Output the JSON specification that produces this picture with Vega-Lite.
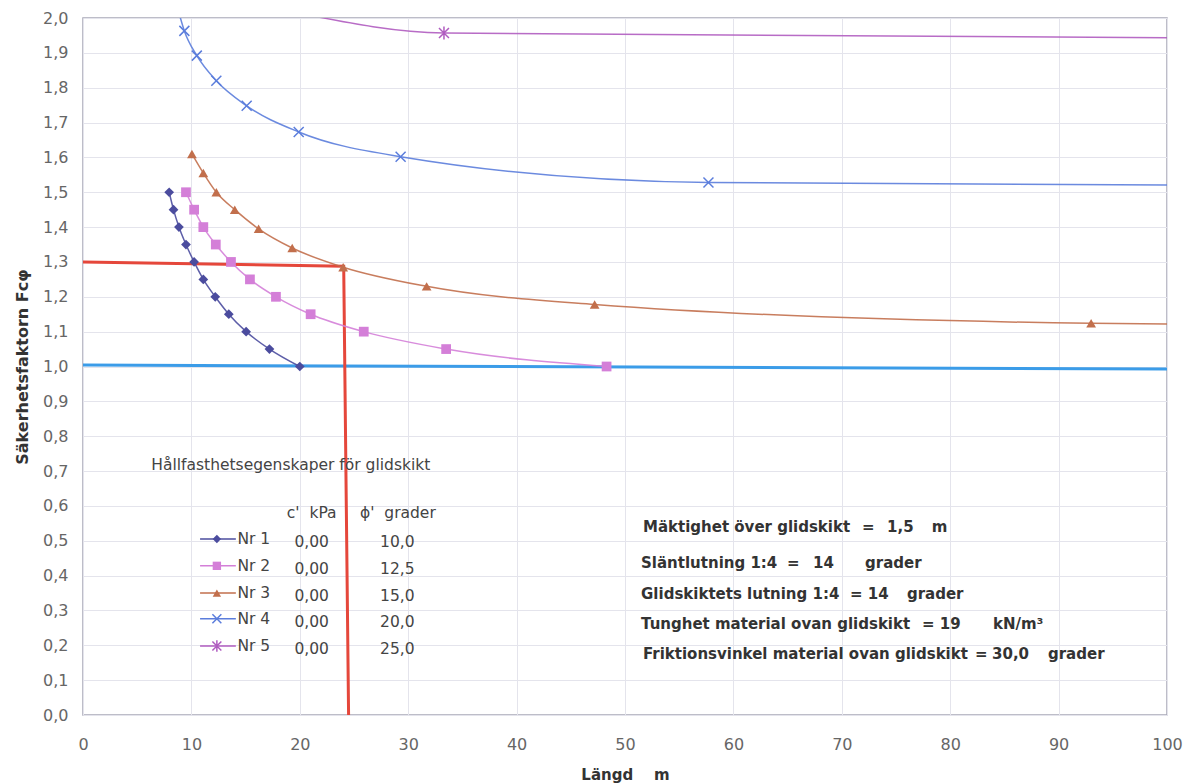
{
  "$schema": "https://vega.github.io/schema/vega-lite/v6.json",
  "width": 1084,
  "height": 697,
  "autosize": {"type": "none"},
  "padding": {"left": 83, "top": 18, "right": 19, "bottom": 68},
  "background": "#ffffff",
  "config": {"font": "DejaVu Sans", "view": {"stroke": "#a8a8b6", "strokeWidth": 1.5}},
  "datasets": {
    "curves": [
      {"s": "Nr 1", "x": 7.95, "y": 1.50, "m": 1},
      {"s": "Nr 1", "x": 8.35, "y": 1.45, "m": 1},
      {"s": "Nr 1", "x": 8.85, "y": 1.40, "m": 1},
      {"s": "Nr 1", "x": 9.5, "y": 1.35, "m": 1},
      {"s": "Nr 1", "x": 10.25, "y": 1.30, "m": 1},
      {"s": "Nr 1", "x": 11.1, "y": 1.25, "m": 1},
      {"s": "Nr 1", "x": 12.2, "y": 1.20, "m": 1},
      {"s": "Nr 1", "x": 13.45, "y": 1.15, "m": 1},
      {"s": "Nr 1", "x": 15.05, "y": 1.10, "m": 1},
      {"s": "Nr 1", "x": 17.2, "y": 1.05, "m": 1},
      {"s": "Nr 1", "x": 20.0, "y": 1.00, "m": 1},
      {"s": "Nr 2", "x": 9.5, "y": 1.50, "m": 1},
      {"s": "Nr 2", "x": 10.25, "y": 1.45, "m": 1},
      {"s": "Nr 2", "x": 11.1, "y": 1.40, "m": 1},
      {"s": "Nr 2", "x": 12.25, "y": 1.35, "m": 1},
      {"s": "Nr 2", "x": 13.65, "y": 1.30, "m": 1},
      {"s": "Nr 2", "x": 15.4, "y": 1.25, "m": 1},
      {"s": "Nr 2", "x": 17.8, "y": 1.20, "m": 1},
      {"s": "Nr 2", "x": 21.0, "y": 1.15, "m": 1},
      {"s": "Nr 2", "x": 25.9, "y": 1.10, "m": 1},
      {"s": "Nr 2", "x": 33.5, "y": 1.05, "m": 1},
      {"s": "Nr 2", "x": 48.3, "y": 1.00, "m": 1},
      {"s": "Nr 3", "x": 10.05, "y": 1.61, "m": 1},
      {"s": "Nr 3", "x": 11.1, "y": 1.555, "m": 1},
      {"s": "Nr 3", "x": 12.3, "y": 1.50, "m": 1},
      {"s": "Nr 3", "x": 14.0, "y": 1.45, "m": 1},
      {"s": "Nr 3", "x": 16.2, "y": 1.395, "m": 1},
      {"s": "Nr 3", "x": 19.3, "y": 1.34, "m": 1},
      {"s": "Nr 3", "x": 24.0, "y": 1.285, "m": 1},
      {"s": "Nr 3", "x": 31.7, "y": 1.23, "m": 1},
      {"s": "Nr 3", "x": 47.2, "y": 1.178, "m": 1},
      {"s": "Nr 3", "x": 93.0, "y": 1.124, "m": 1},
      {"s": "Nr 3", "x": 100, "y": 1.122, "m": 0},
      {"s": "Nr 4", "x": 8.7, "y": 2.032, "m": 0},
      {"s": "Nr 4", "x": 9.35, "y": 1.963, "m": 1},
      {"s": "Nr 4", "x": 10.5, "y": 1.892, "m": 1},
      {"s": "Nr 4", "x": 12.3, "y": 1.82, "m": 1},
      {"s": "Nr 4", "x": 15.1, "y": 1.748, "m": 1},
      {"s": "Nr 4", "x": 19.9, "y": 1.673, "m": 1},
      {"s": "Nr 4", "x": 29.3, "y": 1.602, "m": 1},
      {"s": "Nr 4", "x": 57.7, "y": 1.528, "m": 1},
      {"s": "Nr 4", "x": 100, "y": 1.521, "m": 0},
      {"s": "Nr 5", "x": 20.2, "y": 2.012, "m": 0},
      {"s": "Nr 5", "x": 33.3, "y": 1.957, "m": 1},
      {"s": "Nr 5", "x": 100, "y": 1.943, "m": 0}
    ],
    "ref": [
      {"g": "gräns", "x": 0, "y": 1.004},
      {"g": "gräns", "x": 100, "y": 0.993},
      {"g": "avläsning", "x": 0, "y": 1.30},
      {"g": "avläsning", "x": 24.05, "y": 1.288},
      {"g": "avläsning", "x": 24.5, "y": 0}
    ],
    "forklaring": [
      {"s": "Nr 1", "y": 0.505, "c": "0,00", "phi": "10,0"},
      {"s": "Nr 2", "y": 0.428, "c": "0,00", "phi": "12,5"},
      {"s": "Nr 3", "y": 0.350, "c": "0,00", "phi": "15,0"},
      {"s": "Nr 4", "y": 0.276, "c": "0,00", "phi": "20,0"},
      {"s": "Nr 5", "y": 0.198, "c": "0,00", "phi": "25,0"}
    ],
    "notes": [
      {"kind": "rubrik", "text": "Hållfasthetsegenskaper för glidskikt", "x": 6.3, "y": 0.717},
      {"kind": "rubrik", "text": "c'\u00a0\u00a0kPa", "x": 18.8, "y": 0.580},
      {"kind": "rubrik", "text": "ϕ'\u00a0\u00a0grader", "x": 25.55, "y": 0.580},
      {"kind": "info", "text": "Mäktighet över glidskikt", "x": 51.66, "y": 0.540},
      {"kind": "info", "text": "=", "x": 71.86, "y": 0.540},
      {"kind": "info", "text": "1,5", "x": 74.17, "y": 0.540},
      {"kind": "info", "text": "m", "x": 78.3, "y": 0.540},
      {"kind": "info", "text": "Släntlutning 1:4", "x": 51.48, "y": 0.435},
      {"kind": "info", "text": "=", "x": 64.94, "y": 0.435},
      {"kind": "info", "text": "14", "x": 67.34, "y": 0.435},
      {"kind": "info", "text": "grader", "x": 72.14, "y": 0.435},
      {"kind": "info", "text": "Glidskiktets lutning 1:4", "x": 51.48, "y": 0.346},
      {"kind": "info", "text": "= 14", "x": 70.76, "y": 0.346},
      {"kind": "info", "text": "grader", "x": 76.01, "y": 0.346},
      {"kind": "info", "text": "Tunghet material ovan glidskikt", "x": 51.48, "y": 0.261},
      {"kind": "info", "text": "= 19", "x": 77.4, "y": 0.261},
      {"kind": "info", "text": "kN/m\u00b3", "x": 83.95, "y": 0.261},
      {"kind": "info", "text": "Friktionsvinkel material ovan glidskikt", "x": 51.66, "y": 0.175},
      {"kind": "info", "text": "=", "x": 82.29, "y": 0.175},
      {"kind": "info", "text": "30,0", "x": 83.86, "y": 0.175},
      {"kind": "info", "text": "grader", "x": 89.02, "y": 0.175}
    ]
  },
  "encoding": {
    "y": {
      "field": "y", "type": "quantitative",
      "scale": {"domain": [0, 2], "nice": false, "zero": false},
      "axis": {
        "title": "Säkerhetsfaktorn Fcφ",
        "values": [0, 0.1, 0.2, 0.3, 0.4, 0.5, 0.6, 0.7, 0.8, 0.9, 1, 1.1, 1.2, 1.3, 1.4, 1.5, 1.6, 1.7, 1.8, 1.9, 2],
        "labelExpr": "replace(format(datum.value, '.1f'), '.', ',')",
        "grid": true, "gridColor": "#e4e4ec", "gridWidth": 1,
        "domain": false, "ticks": false, "tickSize": 0, "labelFlush": false, "labelOverlap": false,
        "labelFontSize": 16, "labelColor": "#666666", "labelPadding": 15,
        "titleFontSize": 16, "titleFontWeight": "bold", "titleColor": "#333333", "titlePadding": 12
      }
    }
  },
  "layer": [
    {
      "data": {"name": "ref"},
      "transform": [{"filter": "datum.g === 'gräns'"}],
      "mark": {"type": "line", "color": "#3b9ce8", "strokeWidth": 3, "clip": true},
      "encoding": {
        "x": {
          "field": "x", "type": "quantitative",
          "scale": {"domain": [0, 100], "nice": false, "zero": false},
          "axis": {
            "title": "Längd\u00a0\u00a0\u00a0\u00a0m",
            "values": [0, 10, 20, 30, 40, 50, 60, 70, 80, 90, 100],
            "grid": true, "gridColor": "#e4e4ec", "gridWidth": 1,
            "domain": false, "ticks": false, "tickSize": 0, "labelFlush": false,
            "labelFontSize": 16, "labelColor": "#666666", "labelPadding": 21,
            "titleFontSize": 15, "titleFontWeight": "bold", "titleColor": "#333333", "titlePadding": 15
          }
        }
      }
    },
    {
      "data": {"name": "ref"},
      "transform": [{"filter": "datum.g === 'avläsning'"}],
      "mark": {"type": "line", "color": "#e5473b", "strokeWidth": 3, "clip": true},
      "encoding": {
        "x": {"field": "x", "type": "quantitative", "scale": {"domain": [0, 100], "nice": false, "zero": false}}
      }
    },
    {
      "data": {"name": "curves"},
      "mark": {"type": "line", "interpolate": "monotone", "strokeWidth": 1.5, "clip": true, "opacity": 0.9},
      "encoding": {
        "x": {"field": "x", "type": "quantitative", "scale": {"domain": [0, 100], "nice": false, "zero": false}},
        "color": {"field": "s", "type": "nominal", "legend": null,
          "scale": {"domain": ["Nr 1", "Nr 2", "Nr 3", "Nr 4", "Nr 5"], "range": ["#4b4c9e", "#d47fd8", "#c26f4c", "#5b7ddc", "#b05cc0"]}}
      }
    },
    {
      "data": {"name": "curves"},
      "transform": [{"filter": "datum.m === 1 && (datum.s === 'Nr 1' || datum.s === 'Nr 2' || datum.s === 'Nr 3')"}],
      "mark": {"type": "point", "filled": true, "opacity": 1, "clip": true},
      "encoding": {
        "x": {"field": "x", "type": "quantitative", "scale": {"domain": [0, 100], "nice": false, "zero": false}},
        "color": {"field": "s", "type": "nominal", "legend": null},
        "shape": {"field": "s", "type": "nominal", "legend": null,
          "scale": {"domain": ["Nr 1", "Nr 2", "Nr 3", "Nr 4", "Nr 5"], "range": ["diamond", "square", "triangle-up", "M-1,-1L1,1M-1,1L1,-1", "M-1,-1L1,1M-1,1L1,-1M0,-1.3L0,1.3"]}},
        "size": {"value": 95}
      }
    },
    {
      "data": {"name": "curves"},
      "transform": [{"filter": "datum.m === 1 && (datum.s === 'Nr 4' || datum.s === 'Nr 5')"}],
      "mark": {"type": "point", "filled": false, "opacity": 1, "strokeWidth": 1.5, "clip": true},
      "encoding": {
        "x": {"field": "x", "type": "quantitative", "scale": {"domain": [0, 100], "nice": false, "zero": false}},
        "color": {"field": "s", "type": "nominal", "legend": null},
        "shape": {"field": "s", "type": "nominal", "legend": null},
        "size": {"value": 100}
      }
    },
    {
      "data": {"name": "forklaring"},
      "mark": {"type": "rule", "strokeWidth": 1.5},
      "encoding": {
        "x": {"datum": 10.8, "type": "quantitative"},
        "x2": {"datum": 14.1},
        "color": {"field": "s", "type": "nominal", "legend": null}
      }
    },
    {
      "data": {"name": "forklaring"},
      "transform": [{"filter": "datum.s === 'Nr 1' || datum.s === 'Nr 2' || datum.s === 'Nr 3'"}],
      "mark": {"type": "point", "filled": true, "opacity": 1},
      "encoding": {
        "x": {"datum": 12.35, "type": "quantitative"},
        "color": {"field": "s", "type": "nominal", "legend": null},
        "shape": {"field": "s", "type": "nominal", "legend": null},
        "size": {"value": 70}
      }
    },
    {
      "data": {"name": "forklaring"},
      "transform": [{"filter": "datum.s === 'Nr 4' || datum.s === 'Nr 5'"}],
      "mark": {"type": "point", "filled": false, "opacity": 1, "strokeWidth": 1.5},
      "encoding": {
        "x": {"datum": 12.35, "type": "quantitative"},
        "color": {"field": "s", "type": "nominal", "legend": null},
        "shape": {"field": "s", "type": "nominal", "legend": null},
        "size": {"value": 80}
      }
    },
    {
      "data": {"name": "forklaring"},
      "mark": {"type": "text", "align": "left", "baseline": "middle", "fontSize": 15.5, "color": "#444444"},
      "encoding": {
        "x": {"datum": 14.25, "type": "quantitative"},
        "text": {"field": "s"}
      }
    },
    {
      "data": {"name": "forklaring"},
      "mark": {"type": "text", "align": "center", "baseline": "middle", "fontSize": 15.5, "color": "#444444", "dy": 3},
      "encoding": {
        "x": {"datum": 21.1, "type": "quantitative"},
        "text": {"field": "c"}
      }
    },
    {
      "data": {"name": "forklaring"},
      "mark": {"type": "text", "align": "center", "baseline": "middle", "fontSize": 15.5, "color": "#444444", "dy": 3},
      "encoding": {
        "x": {"datum": 29.0, "type": "quantitative"},
        "text": {"field": "phi"}
      }
    },
    {
      "data": {"name": "notes"},
      "transform": [{"filter": "datum.kind === 'rubrik'"}],
      "mark": {"type": "text", "align": "left", "baseline": "middle", "fontSize": 15.5, "color": "#444444"},
      "encoding": {
        "x": {"field": "x", "type": "quantitative"},
        "text": {"field": "text"}
      }
    },
    {
      "data": {"name": "notes"},
      "transform": [{"filter": "datum.kind === 'info'"}],
      "mark": {"type": "text", "align": "left", "baseline": "middle", "fontSize": 15, "fontWeight": "bold", "color": "#333333"},
      "encoding": {
        "x": {"field": "x", "type": "quantitative"},
        "text": {"field": "text"}
      }
    }
  ]
}
